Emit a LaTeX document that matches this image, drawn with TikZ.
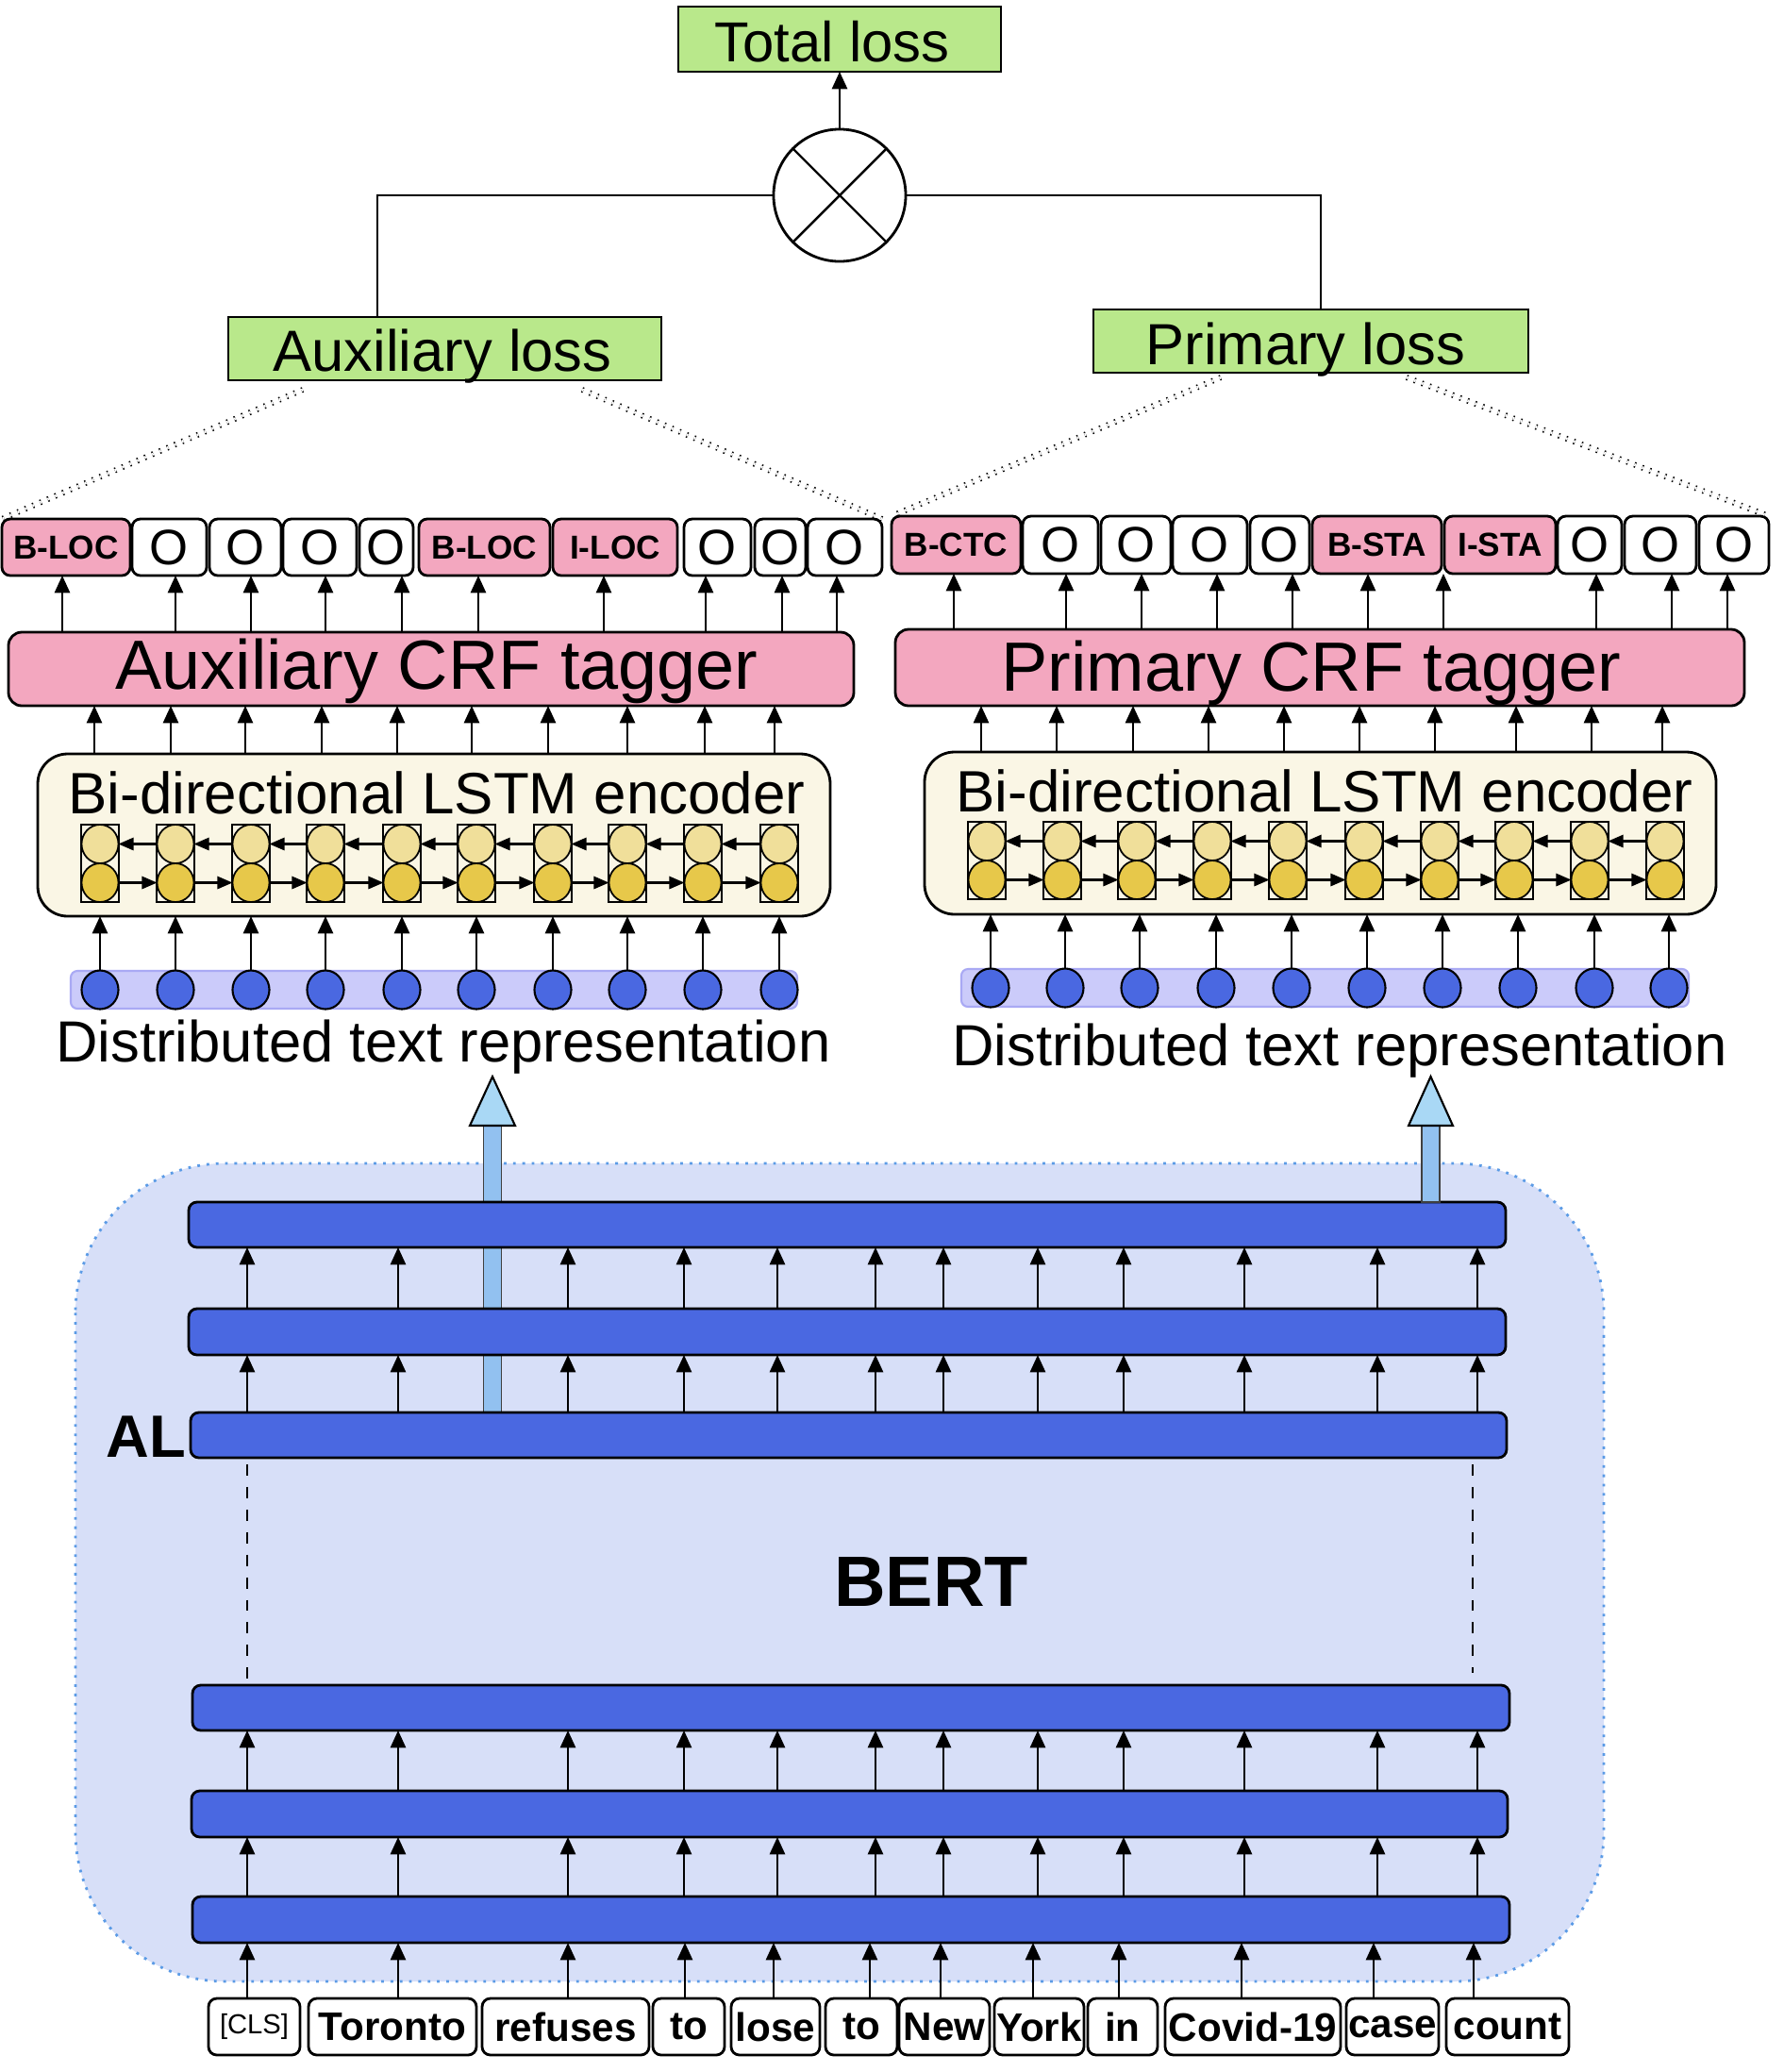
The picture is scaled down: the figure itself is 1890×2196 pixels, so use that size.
\documentclass[tikz,border=0pt]{standalone}
\usepackage{fontspec}
\setmainfont{Liberation Sans}
\usetikzlibrary{arrows.meta,calc}
\definecolor{lgreen}{HTML}{B9E88B}
\definecolor{lpink}{HTML}{F3A7BF}
\definecolor{cream}{HTML}{FAF6E5}
\definecolor{ylight}{HTML}{F0DF9A}
\definecolor{ydark}{HTML}{E7C84A}
\definecolor{rblue}{HTML}{4A68E1}
\definecolor{bandc}{HTML}{CBCBFA}
\definecolor{bandd}{HTML}{A9A9F4}
\definecolor{bertbg}{HTML}{D7DFF8}
\definecolor{bertbd}{HTML}{5B9BE6}
\definecolor{shaftc}{HTML}{92C1F0}
\definecolor{headc}{HTML}{A9D8F5}
\newcommand\fsz[1]{\fontsize{#1}{#1}\selectfont}
\newcommand\tgb[1]{{\bfseries\fsz{10pt}#1}}
\newcommand\tgo{{\fsz{15pt}O}}
\newcommand\low[1]{\raisebox{-1.4pt}{#1}}
\newcommand\rbox[7]{\node[#6, minimum width={((#4)-(#2))*0.01cm}, minimum height={((#5)-(#3))*0.01cm}] (#1) at ({((#2)+(#4))/2},{((#3)+(#5))/2}) {#7};}
\tikzset{
  bx/.style={draw=black, line width=0.8pt, inner sep=0pt, outer sep=0pt},
  tag/.style={bx, rounded corners=2.5pt},
  crf/.style={bx, fill=lpink, rounded corners=4pt},
  lstm/.style={bx, fill=cream, rounded corners=9pt},
  cell/.style={draw=black, line width=0.6pt, inner sep=0pt, outer sep=0pt},
  ucirc/.style={ellipse, draw=black, line width=0.5pt, fill=ylight, minimum width=0.39cm, minimum height=0.41cm, inner sep=0pt, outer sep=0pt},
  lcirc/.style={ellipse, draw=black, line width=0.5pt, fill=ydark, minimum width=0.39cm, minimum height=0.41cm, inner sep=0pt, outer sep=0pt},
  dcirc/.style={ellipse, draw=black, line width=0.6pt, fill=rblue, minimum width=0.39cm, minimum height=0.41cm, inner sep=0pt, outer sep=0pt},
  band/.style={draw=bandd, line width=0.6pt, fill=bandc, rounded corners=2pt, inner sep=0pt, outer sep=0pt},
  lossbox/.style={bx, fill=lgreen, rounded corners=0pt},
  bar/.style={bx, fill=rblue, rounded corners=2.5pt},
  tok/.style={bx, fill=white, rounded corners=2.5pt, font=\bfseries\fsz{12pt}},
  arr/.style={-{Triangle[length=5.2pt,width=4.6pt]}, line width=0.6pt},
  sarr/.style={-{Triangle[length=4.6pt,width=3.8pt]}, line width=0.6pt},
  dotl/.style={dotted, double, double distance=0.8pt, line width=0.45pt},
  plain/.style={line width=0.7pt},
}
\usetikzlibrary{shapes.geometric}
\begin{document}
\begin{tikzpicture}[x=0.01cm,y=-0.01cm]
\useasboundingbox (0,0) rectangle (1890,2196);
\fill[white] (0,0) rectangle (1890,2196);

% ---------------- losses ----------------
\rbox{total}{719}{7}{1061}{76}{lossbox}{}
\node[anchor=base, font=\fsz{17pt}] (totalt) at (882,65) {Total loss};
\node[circle, draw=black, line width=0.8pt, fill=white, minimum size=1.4cm, inner sep=0pt, outer sep=0pt] (mult) at (890,207) {};
\draw[plain] (mult.north west) -- (mult.south east);
\draw[plain] (mult.north east) -- (mult.south west);
\draw[arr] (mult.north) -- (total.south);
\rbox{auxl}{242}{336}{701}{403}{lossbox}{}
\node[anchor=base, font=\fsz{17.5pt}] (auxlt) at (469,393) {Auxiliary loss};
\rbox{priml}{1159}{328}{1620}{395}{lossbox}{}
\node[anchor=base, font=\fsz{17.5pt}] (primlt) at (1384,386) {Primary loss};
\draw[plain] (mult.west) -- (400,0 |- mult.west) -- (400,0 |- auxl.north);
\draw[plain] (mult.east) -- (1400,0 |- mult.east) -- (1400,0 |- priml.north);

% ---------------- tags ----------------
\foreach \n/\a/\b/\t/\f in {1/2/138/\tgb{B-LOC}/lpink,2/140/219/\tgo/white,3/222/298/\tgo/white,4/300/378/\tgo/white,5/381/438/\tgo/white,6/444/583/\tgb{B-LOC}/lpink,7/586/718/\tgb{I-LOC}/lpink,8/725/796/\tgo/white,9/800/854/\tgo/white,10/856/935/\tgo/white}
  {\rbox{tA\n}{\a}{550}{\b}{610}{tag,fill=\f}{\t}}
\foreach \n/\a/\b/\t/\f in {1/945/1082/\tgb{B-CTC}/lpink,2/1084/1164/\tgo/white,3/1167/1241/\tgo/white,4/1243/1322/\tgo/white,5/1325/1388/\tgo/white,6/1391/1528/\tgb{B-STA}/lpink,7/1531/1649/\tgb{I-STA}/lpink,8/1651/1719/\tgo/white,9/1722/1798/\tgo/white,10/1801/1875/\tgo/white}
  {\rbox{tP\n}{\a}{547}{\b}{608}{tag,fill=\f}{\t}}

\coordinate (dl1) at (321,413);
\coordinate (dl2) at (617,413);
\coordinate (dl3) at (1294,400);
\coordinate (dl4) at (1491,400);
\draw[dotl] (dl1) -- (tA1.north west);
\draw[dotl] (dl2) -- (tA10.north east);
\draw[dotl] (dl3) -- (tP1.north west);
\draw[dotl] (dl4) -- (tP10.north east);

% ---------------- CRF ----------------
\rbox{crfA}{9}{670}{905}{748}{crf}{}
\node[anchor=base, font=\fsz{21pt}] (crfAt) at (463,730) {Auxiliary CRF tagger};
\rbox{crfP}{949}{667}{1849}{748}{crf}{}
\node[anchor=base, font=\fsz{21pt}] (crfPt) at (1390,732) {Primary CRF tagger};
\foreach \x [count=\i] in {66,186,266,345,426,507,640,748,829,887}
  \draw[arr] (\x,0 |- crfA.north) -- (\x,0 |- tA\i.south);
\foreach \x [count=\i] in {1011,1130,1210,1290,1370,1450,1530,1692,1772,1831}
  \draw[arr] (\x,0 |- crfP.north) -- (\x,0 |- tP\i.south);

% ---------------- LSTM ----------------
\rbox{lstmA}{40}{799}{880}{971}{lstm}{}
\node[anchor=base, font=\fsz{17.6pt}] (lstmAt) at (463,862) {Bi-directional LSTM encoder};
\rbox{lstmP}{980}{797}{1819}{969}{lstm}{}
\node[anchor=base, font=\fsz{17.6pt}] (lstmPt) at (1404,860) {Bi-directional LSTM encoder};
\foreach \x in {100,181,260,341,421,500,581,665,747,821}
  \draw[arr] (\x,0 |- lstmA.north) -- (\x,0 |- crfA.south);
\foreach \x in {1040,1120,1201,1281,1361,1441,1521,1607,1687,1762}
  \draw[arr] (\x,0 |- lstmP.north) -- (\x,0 |- crfP.south);

\foreach \x [count=\i] in {106,186,266,345,426,505,586,665,745,826} {
  \rbox{cA\i}{\x-20}{874}{\x+20}{956}{cell}{}
  \node[ucirc] (uA\i) at (\x,894.5) {};
  \node[lcirc] (lA\i) at (\x,935.5) {};
}
\foreach \x [count=\i] in {1046,1126,1205,1285,1365,1446,1526,1605,1685,1765} {
  \rbox{cP\i}{\x-20}{871}{\x+20}{953}{cell}{}
  \node[ucirc] (uP\i) at (\x,891.5) {};
  \node[lcirc] (lP\i) at (\x,932.5) {};
}
\foreach \i [evaluate=\i as \j using int(\i+1)] in {1,...,9} {
  \draw[sarr] (uA\j.west) -- (uA\i.east);
  \draw[sarr] (lA\i.east) -- (lA\j.west);
  \draw[sarr] (uP\j.west) -- (uP\i.east);
  \draw[sarr] (lP\i.east) -- (lP\j.west);
}

% ---------------- distributed ----------------
\rbox{bandA}{75}{1029}{845}{1069}{band}{}
\rbox{bandP}{1019}{1027}{1790}{1067}{band}{}
\foreach \x [count=\i] in {106,186,266,345,426,505,586,665,745,826} {
  \node[dcirc] (dA\i) at (\x,1049) {};
  \draw[arr] (dA\i.north) -- (\x,0 |- lstmA.south);
}
\foreach \x [count=\i] in {1050,1129,1208,1289,1369,1449,1529,1609,1690,1769} {
  \node[dcirc] (dP\i) at (\x,1047) {};
  \draw[arr] (dP\i.north) -- (\x,0 |- lstmP.south);
}
\node[anchor=base, font=\fsz{17.5pt}] (distA) at (470,1125) {Distributed text representation};
\node[anchor=base, font=\fsz{17.5pt}] (distP) at (1420,1129) {Distributed text representation};

% ---------------- BERT ----------------
\draw[fill=bertbg, draw=bertbd, dotted, line width=0.8pt, rounded corners=45pt] (80,1233) rectangle (1700,2100);
\filldraw[fill=shaftc, draw=black!75, line width=0.5pt] (512.5,1497) rectangle (531.5,1193);
\rbox{b1}{200}{1274}{1596}{1322}{bar}{}
\rbox{b2}{200}{1387}{1596}{1436}{bar}{}
\rbox{b3}{202}{1497}{1597}{1545}{bar}{}
\rbox{b4}{204}{1786}{1600}{1834}{bar}{}
\rbox{b5}{203}{1898}{1598}{1947}{bar}{}
\rbox{b6}{204}{2010}{1600}{2059}{bar}{}
\filldraw[fill=shaftc, draw=black!75, line width=0.5pt] (1507,1274) rectangle (1526,1193);
\filldraw[fill=headc, draw=black, line width=0.6pt] (498,1193) -- (522,1141) -- (546,1193) -- cycle;
\filldraw[fill=headc, draw=black, line width=0.6pt] (1493,1193) -- (1516.5,1141) -- (1540,1193) -- cycle;

\foreach \x in {262,422,602,725,824,928,1000,1100,1191,1319,1460,1566} {
  \draw[arr] (\x,0 |- b2.north) -- (\x,0 |- b1.south);
  \draw[arr] (\x,0 |- b3.north) -- (\x,0 |- b2.south);
  \draw[arr] (\x,0 |- b5.north) -- (\x,0 |- b4.south);
  \draw[arr] (\x,0 |- b6.north) -- (\x,0 |- b5.south);
}
\draw[line width=0.6pt, dash pattern=on 3.4pt off 3.4pt] (262,1552) -- (262,1780);
\draw[line width=0.6pt, dash pattern=on 3.4pt off 3.4pt] (1561,1552) -- (1561,1773);
\node[anchor=base, font=\bfseries\fsz{18pt}] (al) at (155,1544) {AL};
\node[anchor=base, font=\bfseries\fsz{21.5pt}] (bert) at (987,1702) {BERT};

% ---------------- tokens ----------------
\foreach \n/\a/\b/\t in {1/221/318/{\raisebox{2pt}{\mdseries\fsz{8.3pt}[CLS]}},2/327/505/Toronto,3/511/688/refuses,4/692/768/to,5/775/869/lose,6/875/951/\low{to},7/953/1049/\low{New},8/1054/1149/York,9/1153/1227/in,10/1235/1421/Covid-19,11/1427/1525/case,12/1533/1663/count}
  {\rbox{tok\n}{\a}{2118}{\b}{2178}{tok}{\t}}
\foreach \x [count=\i] in {262,422,602,726,820,922,997,1095,1186,1316,1456,1562}
  \draw[arr] (\x,0 |- tok\i.north) -- (\x,0 |- b6.south);
\end{tikzpicture}
\end{document}
